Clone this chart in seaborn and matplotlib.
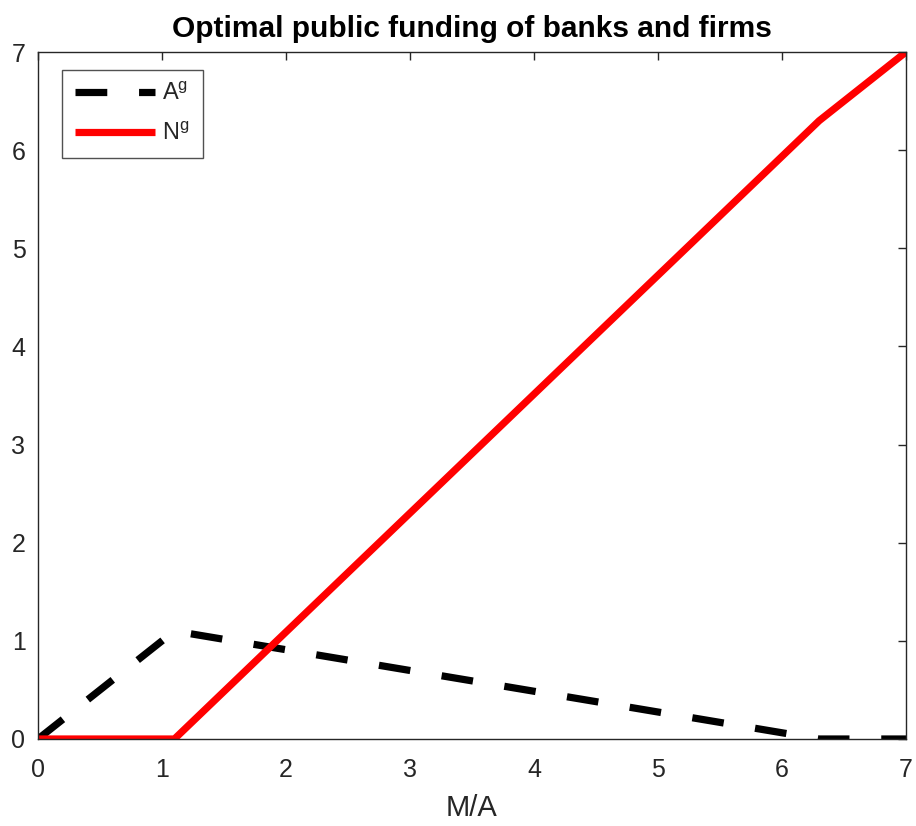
import pandas as pd
import matplotlib
matplotlib.use("Agg")
import matplotlib.pyplot as plt
import seaborn as sns

# data
x_a = [0.0, 1.1, 6.3, 7.0]
a_g = [0.0, 1.1, 0.0, 0.0]
x_n = [0.0, 1.1, 6.3, 7.0]
n_g = [0.0, 0.0, 6.3, 7.0]
ticks = [0, 1, 2, 3, 4, 5, 6, 7]

sns.set_style("white")
plt.rcParams['font.family'] = ['Liberation Sans', 'DejaVu Sans']
plt.rcParams['mathtext.fontset'] = 'custom'
plt.rcParams['mathtext.rm'] = 'Liberation Sans'
plt.rcParams['mathtext.it'] = 'Liberation Sans'

df_a = pd.DataFrame({'x': x_a, 'y': a_g})
df_n = pd.DataFrame({'x': x_n, 'y': n_g})

fig = plt.figure(figsize=(9.16, 8.26), dpi=100)
ax = fig.add_axes([38 / 916, 87 / 826, 868 / 916, 687 / 826])

sns.lineplot(data=df_a, x='x', y='y', ax=ax, color='black', lw=5.2,
             label='A$^{\\mathrm{g}}$', sort=False)
sns.lineplot(data=df_n, x='x', y='y', ax=ax, color='#ff0000', lw=5.2,
             label='N$^{\\mathrm{g}}$', sort=False)
ax.lines[0].set_dashes((4.4, 4.4))
for ln in ax.lines:
    ln.set_dash_capstyle('butt')
    ln.set_solid_capstyle('butt')
    ln.set_solid_joinstyle('miter')

ax.set_xlim(0, 7)
ax.set_ylim(0, 7)
ax.set_xticks(ticks)
ax.set_yticks(ticks)
ax.tick_params(direction='in', length=6, width=1, color='#262626',
               labelsize=18, labelcolor='#262626', top=True, right=True)
ax.tick_params(axis='x', pad=14)
ax.tick_params(axis='y', pad=9)
for s in ax.spines.values():
    s.set_color('#262626')
    s.set_linewidth(1)
ax.set_xlabel('M/A', fontsize=21, color='#262626', labelpad=8)
ax.set_ylabel('')
ax.set_title('Optimal public funding of banks and firms', fontsize=21.5,
             fontweight='bold', color='black', pad=11)

leg = ax.legend(loc='upper left', fontsize=17, handlelength=3.4,
                handletextpad=0.3, labelspacing=0.75, borderpad=0.55,
                borderaxespad=0, frameon=True, fancybox=False,
                bbox_to_anchor=(24 / 868, 669 / 687))
leg.get_frame().set_edgecolor('#262626')
leg.get_frame().set_linewidth(1)

fig.savefig('out.png', dpi=100)
